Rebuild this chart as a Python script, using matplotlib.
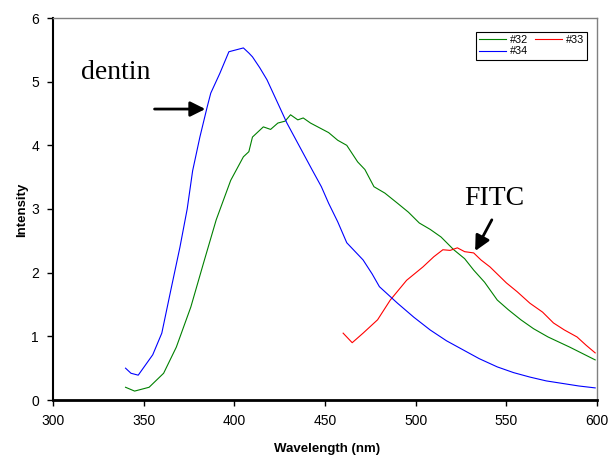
import matplotlib
matplotlib.use('Agg')
import matplotlib.pyplot as plt

# spectra (wavelength nm, intensity)
wl_32 = [340, 345, 353, 361, 368, 376, 383, 390, 398, 405, 408, 410, 416, 420, 424,
         428, 431, 435, 438, 442, 446, 452, 457, 462, 468, 472, 477, 483, 490, 496,
         502, 508, 514, 521, 527, 532, 538, 545, 551, 558, 565, 573, 579, 585, 592, 599]
int_32 = [0.20, 0.14, 0.20, 0.42, 0.83, 1.46, 2.15, 2.83, 3.45, 3.82, 3.90, 4.13,
          4.29, 4.25, 4.35, 4.38, 4.48, 4.40, 4.43, 4.35, 4.29, 4.20, 4.08, 4.00,
          3.74, 3.62, 3.35, 3.25, 3.09, 2.95, 2.78, 2.68, 2.56, 2.36, 2.22, 2.04,
          1.85, 1.57, 1.42, 1.26, 1.12, 0.99, 0.91, 0.83, 0.73, 0.63]

wl_33 = [460, 465, 471, 479, 486, 495, 504, 510, 515, 519, 523, 527, 532, 536, 541,
         550, 556, 563, 570, 576, 582, 589, 594, 599]
int_33 = [1.05, 0.90, 1.05, 1.26, 1.57, 1.88, 2.09, 2.25, 2.36, 2.35, 2.39, 2.33,
          2.31, 2.20, 2.09, 1.84, 1.70, 1.52, 1.38, 1.21, 1.10, 0.99, 0.86, 0.74]

wl_34 = [340, 343, 347, 351, 355, 360, 365, 370, 374, 377, 381, 385, 387, 392, 397,
         401, 405, 408, 410, 414, 418, 424, 429, 436, 443, 448, 452, 457, 462, 467,
         471, 476, 480, 485, 490, 499, 508, 517, 526, 535, 545, 554, 563, 572, 581,
         590, 599]
int_34 = [0.50, 0.42, 0.39, 0.55, 0.71, 1.05, 1.73, 2.40, 3.00, 3.60, 4.13, 4.60,
          4.82, 5.13, 5.47, 5.50, 5.53, 5.45, 5.39, 5.22, 5.03, 4.66, 4.35, 3.98,
          3.61, 3.35, 3.09, 2.80, 2.47, 2.32, 2.20, 1.98, 1.78, 1.65, 1.52, 1.30,
          1.10, 0.93, 0.79, 0.65, 0.52, 0.43, 0.36, 0.30, 0.26, 0.22, 0.19]

x_ticks = [300, 350, 400, 450, 500, 550, 600]
y_ticks = [0, 1, 2, 3, 4, 5, 6]

fig = plt.figure(figsize=(6.1, 4.57), dpi=100)
ax = fig.add_axes([53/610, 57/457, 544/610, 382/457])

l32, = ax.plot(wl_32, int_32, color='#008000', lw=0.8, label='#32')
l33, = ax.plot(wl_33, int_33, color='#ff0000', lw=0.8, label='#33')
l34, = ax.plot(wl_34, int_34, color='#0000ff', lw=0.8, label='#34')

ax.set_xlim(300, 600)
ax.set_ylim(0, 6)
ax.set_xticks(x_ticks)
ax.set_yticks(y_ticks)
ax.tick_params(direction='out', length=4, width=1, labelsize=10, pad=6)
for lab in ax.get_xticklabels() + ax.get_yticklabels():
    lab.set_fontfamily('Liberation Sans')

ax.spines['left'].set_linewidth(1.5)
ax.spines['bottom'].set_linewidth(2)
ax.spines['top'].set_color('#808080')
ax.spines['right'].set_color('#808080')
ax.spines['top'].set_linewidth(1)
ax.spines['right'].set_linewidth(1)

fig.text(327/610, 1-449/457, 'Wavelength (nm)', ha='center', va='center',
         fontsize=9.5, fontweight='bold', family='Liberation Sans')
fig.text(22/610, 1-210/457, 'Intensity', ha='center', va='center', rotation=90,
         fontsize=9.5, fontweight='bold', family='Liberation Sans')

leg = ax.legend([l32, l34, l33], ['#32', '#34', '#33'], ncol=2, loc='upper left',
                bbox_to_anchor=(476/610, 1-32/457), bbox_transform=fig.transFigure,
                borderaxespad=0, fancybox=False, edgecolor='black', framealpha=1,
                prop={'family': 'Liberation Sans', 'size': 7.8},
                handlelength=2.5, handletextpad=0.3, columnspacing=0.7,
                labelspacing=0.1, borderpad=0.3)
leg.get_frame().set_linewidth(0.8)

ax.text(334.5, 5.15, 'dentin', ha='center', va='center', fontsize=20,
        family='Liberation Serif')
ax.annotate('', xy=(384, 4.57), xytext=(356, 4.57),
            arrowprops=dict(arrowstyle='-|>,head_length=0.9,head_width=0.45',
                            color='black', lw=2, shrinkA=0, shrinkB=0))
ax.text(543.5, 3.16, 'FITC', ha='center', va='center', fontsize=20,
        family='Liberation Serif')
ax.annotate('', xy=(532.8, 2.34), xytext=(542, 2.83),
            arrowprops=dict(arrowstyle='-|>,head_length=0.9,head_width=0.45',
                            color='black', lw=2, shrinkA=0, shrinkB=0))

fig.savefig('out.png', dpi=100)
